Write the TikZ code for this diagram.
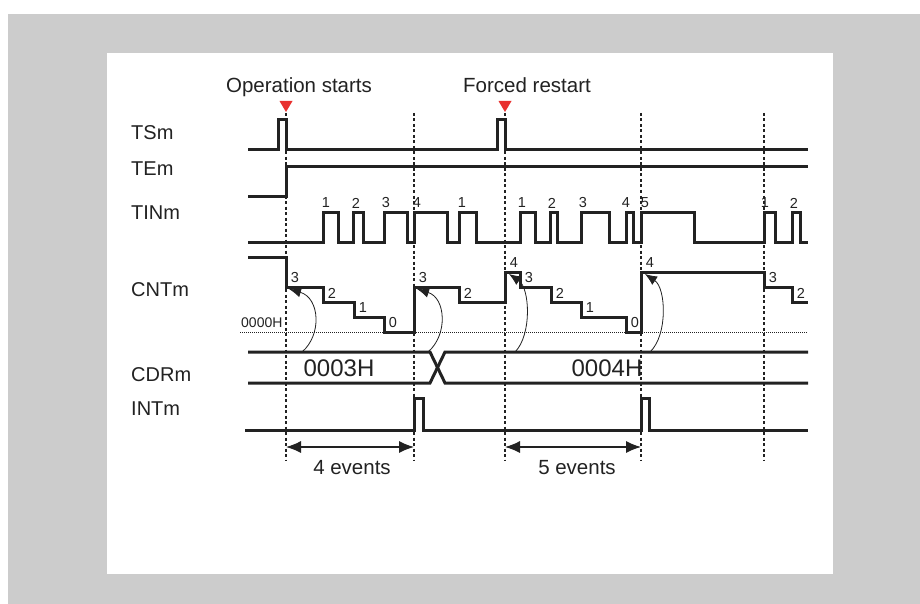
\documentclass[tikz,border=0pt]{standalone}
\usepackage{fontspec}
\setmainfont{Liberation Sans}
\usetikzlibrary{arrows.meta}
\definecolor{tdBackGrey}{HTML}{CCCCCC}
\definecolor{tdInk}{HTML}{222222}
\definecolor{tdMarkRed}{HTML}{E8302E}

\tikzset{
  wave/.style={draw=tdInk, line width=3pt},
  guide/.style={draw=tdInk, line width=1.5pt, dash pattern=on 3pt off 2.5pt},
  zeroline/.style={draw=tdInk, line width=0.8pt, dash pattern=on 1pt off 1pt},
  reload/.style={draw=tdInk, line width=0.8pt, -{Latex[length=12pt,width=10pt]}},
  span/.style={draw=tdInk, line width=1.2pt,
               {Latex[length=15pt,width=12pt]}-{Latex[length=15pt,width=12pt]}},
  signame/.style={anchor=west, inner sep=0pt, text=tdInk,
                  font=\fontsize{20}{24}\selectfont},
  biglabel/.style={inner sep=0pt, text=tdInk, font=\fontsize{20.5}{24}\selectfont},
  count/.style={inner sep=0pt, text=tdInk, font=\fontsize{14.5}{16}\selectfont},
}

\begin{document}
\begin{tikzpicture}[x=1pt, y=-1pt]
\useasboundingbox (0,0) rectangle (920,604);

%% frame =============================================================
\fill[tdBackGrey] (8,14) rectangle (920,604);
\fill[white] (107,53) rectangle (833,574);

%% signal names ======================================================
\node[signame] (nTS)  at (131,133) {TSm};
\node[signame] (nTE)  at (131,169) {TEm};
\node[signame] (nTIN) at (131,213) {TINm};
\node[signame] (nCNT) at (131,290) {CNTm};
\node[signame] (nCDR) at (131,375) {CDRm};
\node[signame] (nINT) at (131,409) {INTm};

%% markers and guides ================================================
\node[biglabel, anchor=base] (opStart) at (299,93) {Operation starts};
\node[biglabel, anchor=base] (fcRestart) at (527,93) {Forced restart};
\foreach \x in {286,505}
  \fill[tdMarkRed] (\x-6.5,101) -- (\x+6.5,101) -- (\x,112) -- cycle;
\foreach [count=\i] \x in {286,414,505,641,764} {
  \coordinate (gTop\i) at (\x,113);
  \coordinate (gBot\i) at (\x,460);
  \draw[guide] (gTop\i) -- (gBot\i);
}

%% TSm / TEm =========================================================
\draw[wave] (248,150) -| (278,120) -| (286,150) -| (497,120) -| (505,150) -- (808,150);
\draw[wave] (248,196) -| (286,167) -- (808,167);

%% TINm ==============================================================
\draw[wave] (248,242)
  \foreach \a/\b in {323/338, 353/363, 384/407, 414/447, 459/476,
                     520/535, 550/557, 581/609, 626/633, 641/694,
                     764/775, 792/800}
    { -- (\a,242) -- (\a,212) -- (\b,212) -- (\b,242) }
  -- (808,242);
\foreach [count=\i] \lx/\n in {326/1, 356/2, 386/3, 417/4, 462/1, 522/1,
                               552/2, 583/3, 626/4, 645/5, 765/1, 794/2}
  \node[count] (tin\i) at (\lx,203) {\n};

%% CNTm ==============================================================
\draw[zeroline] (240,332) -- (808,332);
\node[inner sep=0pt, text=tdInk, font=\fontsize{14}{15}\selectfont,
      anchor=base west] (zeroLab) at (241,327) {0000H};
\draw[wave] (248,257)
  \foreach \x/\y in {286/287, 323/302, 354/317, 384/332, 414/287,
                     459/302, 505/272, 520/287, 551/302, 581/317,
                     626/332, 641/272, 764/287, 792/302}
    { -| (\x,\y) }
  -- (808,302);
\foreach [count=\i] \x/\y/\n in {286/287/3, 323/302/2, 354/317/1, 384/332/0,
                                 414/287/3, 459/302/2, 505/272/4, 520/287/3,
                                 551/302/2, 581/317/1, 626/332/0, 641/272/4,
                                 764/287/3, 792/302/2}
  \node[count] (cnt\i) at (\x+9,\y-9) {\n};

%% reload arrows (CDRm -> CNTm)
\coordinate (rA) at (302,352);  \coordinate (rAe) at (289,289);
\coordinate (rB) at (428,352);  \coordinate (rBe) at (417,289);
\coordinate (rC) at (515,352);  \coordinate (rCe) at (509,274);
\coordinate (rD) at (650,352);  \coordinate (rDe) at (645,274);
\draw[reload] (rA) .. controls (322,335) and (320,298) .. (rAe);
\draw[reload] (rB) .. controls (448,335) and (446,298) .. (rBe);
\draw[reload] (rC) .. controls (532,335) and (530,288) .. (rCe);
\draw[reload] (rD) .. controls (668,335) and (666,288) .. (rDe);

%% CDRm ==============================================================
\draw[wave] (248,352) -- (430,352) -- (445,383) -- (808,383);
\draw[wave] (248,383) -- (430,383) -- (445,352) -- (808,352);
\node[inner sep=0pt, text=tdInk, font=\fontsize{24}{28}\selectfont]
  (cdrA) at (339,368) {0003H};
\node[inner sep=0pt, text=tdInk, font=\fontsize{24}{28}\selectfont]
  (cdrB) at (607,368) {0004H};

%% INTm ==============================================================
\draw[wave] (245,430) -| (414,398) -| (423,430) -| (641,398) -| (649,430) -- (808,430);

%% event spans =======================================================
\coordinate (sA) at (286,447);  \coordinate (sAe) at (414,447);
\coordinate (sB) at (505,447);  \coordinate (sBe) at (641,447);
\draw[span] (sA) -- (sAe);
\draw[span] (sB) -- (sBe);
\node[biglabel] (evA) at (352,468) {4 events};
\node[biglabel] (evB) at (577,468) {5 events};

\end{tikzpicture}
\end{document}
